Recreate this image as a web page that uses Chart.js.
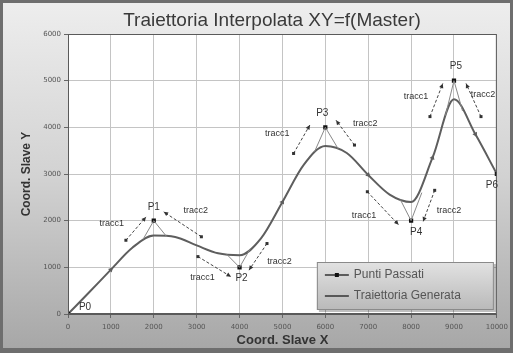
<!DOCTYPE html>
<html>
<head>
<meta charset="utf-8">
<script src="https://cdn.jsdelivr.net/npm/chart.js@4/dist/chart.umd.min.js"></script>
<style>
  html, body { margin: 0; padding: 0; background: #fff; }
  #wrap { width: 513px; height: 353px; }
</style>
</head>
<body>
<div id="wrap"><canvas id="trajChart" width="513" height="353"></canvas></div>
<script>
// punti passati (master -> slave)
const pointNames = ['P0', 'P1', 'P2', 'P3', 'P4', 'P5', 'P6'];
const passX = [0, 2000, 4000, 6000, 8000, 9000, 10000];
const passY = [0, 2000, 1000, 4000, 2000, 5000, 3000];

// traiettoria generata, campionata ogni 500
const trajX = [0, 500, 1000, 1500, 2000, 2500, 3000, 3500, 4000, 4500, 5000,
               5500, 6000, 6500, 7000, 7500, 8000, 8500, 9000, 9500, 10000];
const trajY = [0, 470, 950, 1420, 1680, 1650, 1470, 1300, 1260, 1620, 2400,
               3200, 3600, 3450, 2980, 2560, 2400, 3350, 4600, 3850, 3000];
// campioni su cui disegnare la freccia di direzione
const arrowIdx = [2, 10, 14, 17, 19];

// tangenti (tracc1 entrante, tracc2 uscente) per P1..P5: [xLontano, yLontano, xVicino, yVicino]
const tracc1 = [
  [1350, 1580, 1820, 2080],
  [3030, 1230, 3800, 800],
  [5260, 3440, 5640, 4050],
  [6980, 2620, 7710, 1910],
  [8440, 4230, 8740, 4940]
];
const tracc2 = [
  [3110, 1655, 2230, 2190],
  [4640, 1510, 4220, 940],
  [6680, 3620, 6250, 4150],
  [8550, 2650, 8280, 1980],
  [9630, 4230, 9280, 4940]
];
// raccordi punto -> traiettoria per P1..P5: [xSx, ySx, xDx, yDx]
const raccordi = [
  [1750, 1600, 2300, 1660],
  [3700, 1280, 4250, 1400],
  [5750, 3480, 6300, 3540],
  [7750, 2450, 8250, 2600],
  [8800, 4250, 9200, 4350]
];

const xTicks = [0, 1000, 2000, 3000, 4000, 5000, 6000, 7000, 8000, 9000, 10000];
const yTicks = [0, 1000, 2000, 3000, 4000, 5000, 6000];

const TITLE = 'Traiettoria Interpolata XY=f(Master)';

// spostamenti in pixel delle etichette rispetto al punto
const nameOffset = [[17, -7], [0, -13], [2, 11], [-3, -14], [5, 12], [2, -14], [-5, 11]];
const traccOffset = [
  [[-42, 3], [42, -10]],
  [[-37, 10], [40, -6]],
  [[-48, 6], [40, -4]],
  [[-47, -5], [38, -10]],
  [[-38, 16], [29, 14]]
];

const FONT = "'Liberation Sans', Arial, sans-serif";

const trajData = trajX.map((x, i) => ({ x: x, y: trajY[i] }));
const passData = passX.map((x, i) => ({ x: x, y: passY[i] }));

const frame = {
  id: 'frame',
  beforeDraw(chart) {
    const { ctx, width, height, chartArea: a } = chart;
    ctx.save();
    ctx.fillStyle = '#6e6e6e';
    ctx.fillRect(0, 0, width, height);
    const g = ctx.createLinearGradient(0, 0, 0, height);
    g.addColorStop(0, '#eeeeee');
    g.addColorStop(0.5, '#d2d2d2');
    g.addColorStop(1, '#a6a6a6');
    ctx.fillStyle = g;
    ctx.fillRect(3, 3, width - 6, height - 8);
    ctx.fillStyle = '#ffffff';
    ctx.fillRect(a.left, a.top, a.right - a.left, a.bottom - a.top);

    // titolo, centrato un po' a destra come nell'originale
    ctx.fillStyle = '#3a3a3a';
    ctx.font = '19px ' + FONT;
    ctx.textAlign = 'center';
    ctx.textBaseline = 'middle';
    ctx.fillText(TITLE, 272, 21);
    ctx.restore();
  }
};

function arrowHead(ctx, x0, y0, x1, y1, size) {
  const ang = Math.atan2(y1 - y0, x1 - x0);
  ctx.beginPath();
  ctx.moveTo(x1, y1);
  ctx.lineTo(x1 - size * Math.cos(ang - 0.45), y1 - size * Math.sin(ang - 0.45));
  ctx.lineTo(x1 - size * Math.cos(ang + 0.45), y1 - size * Math.sin(ang + 0.45));
  ctx.closePath();
  ctx.fill();
}

const annotations = {
  id: 'annotations',
  afterDatasetsDraw(chart) {
    const { ctx, chartArea: a } = chart;
    const sx = chart.scales.x, sy = chart.scales.y;
    ctx.save();

    // bordo area grafico
    ctx.strokeStyle = '#5a5a5a';
    ctx.lineWidth = 1;
    ctx.strokeRect(a.left + 0.5, a.top + 0.5, a.right - a.left - 1, a.bottom - a.top - 1);

    // raccordi tra punto e traiettoria
    ctx.strokeStyle = '#888';
    raccordi.forEach((r, k) => {
      const px = sx.getPixelForValue(passX[k + 1]), py = sy.getPixelForValue(passY[k + 1]);
      ctx.beginPath();
      ctx.moveTo(sx.getPixelForValue(r[0]), sy.getPixelForValue(r[1]));
      ctx.lineTo(px, py);
      ctx.lineTo(sx.getPixelForValue(r[2]), sy.getPixelForValue(r[3]));
      ctx.stroke();
    });

    // tangenti nei punti intermedi
    ctx.strokeStyle = '#444';
    ctx.fillStyle = '#333';
    [tracc1, tracc2].forEach(list => {
      list.forEach(t => {
        const x0 = sx.getPixelForValue(t[0]), y0 = sy.getPixelForValue(t[1]);
        const x1 = sx.getPixelForValue(t[2]), y1 = sy.getPixelForValue(t[3]);
        ctx.setLineDash([3, 2]);
        ctx.beginPath();
        ctx.moveTo(x0, y0);
        ctx.lineTo(x1, y1);
        ctx.stroke();
        ctx.setLineDash([]);
        ctx.fillRect(x0 - 1.5, y0 - 1.5, 3, 3);
        arrowHead(ctx, x0, y0, x1, y1, 5);
      });
    });

    // etichette punti e tangenti
    ctx.fillStyle = '#333';
    ctx.textAlign = 'center';
    ctx.textBaseline = 'middle';
    ctx.font = '10px ' + FONT;
    pointNames.forEach((n, i) => {
      const px = sx.getPixelForValue(passX[i]), py = sy.getPixelForValue(passY[i]);
      ctx.fillText(n, px + nameOffset[i][0], py + nameOffset[i][1]);
    });
    ctx.font = '9px ' + FONT;
    traccOffset.forEach((o, k) => {
      const px = sx.getPixelForValue(passX[k + 1]), py = sy.getPixelForValue(passY[k + 1]);
      ctx.fillText('tracc1', px + o[0][0], py + o[0][1]);
      ctx.fillText('tracc2', px + o[1][0], py + o[1][1]);
    });

    // legenda
    const lw = 177, lh = 48;
    const lx = a.right - lw - 3, ly = a.bottom - lh - 4;
    ctx.fillStyle = 'rgba(0,0,0,0.25)';
    ctx.fillRect(lx + 2, ly + 2, lw, lh);
    const g = ctx.createLinearGradient(0, ly, 0, ly + lh);
    g.addColorStop(0, '#e2e2e2');
    g.addColorStop(1, '#b9b9b9');
    ctx.fillStyle = g;
    ctx.fillRect(lx, ly, lw, lh);
    ctx.strokeStyle = '#8a8a8a';
    ctx.strokeRect(lx + 0.5, ly + 0.5, lw - 1, lh - 1);

    const items = chart.data.datasets.slice().reverse();
    items.forEach((ds, i) => {
      const yy = ly + 13 + i * 21;
      ctx.strokeStyle = '#333';
      ctx.lineWidth = 1.5;
      ctx.beginPath();
      ctx.moveTo(lx + 8, yy);
      ctx.lineTo(lx + 32, yy);
      ctx.stroke();
      if (ds.showLine === false) {
        ctx.fillStyle = '#111';
        ctx.fillRect(lx + 18, yy - 2, 4, 4);
      }
      ctx.fillStyle = '#555';
      ctx.textAlign = 'left';
      ctx.font = '12px ' + FONT;
      ctx.fillText(ds.label, lx + 37, yy);
    });
    ctx.restore();
  }
};

new Chart(document.getElementById('trajChart'), {
  type: 'line',
  data: {
    datasets: [
      {
        label: 'Traiettoria Generata',
        data: trajData,
        borderColor: '#5e5e5e',
        backgroundColor: '#5e5e5e',
        borderWidth: 2,
        cubicInterpolationMode: 'monotone',
        pointStyle: 'triangle',
        pointRadius: trajX.map((_, i) => arrowIdx.includes(i) ? 3 : 0),
        pointRotation: (c) => {
          const i = c.dataIndex;
          const sx = c.chart.scales.x, sy = c.chart.scales.y;
          if (!sx || !sy || i <= 0 || i >= trajX.length - 1) return 0;
          const dx = sx.getPixelForValue(trajX[i + 1]) - sx.getPixelForValue(trajX[i - 1]);
          const dy = sy.getPixelForValue(trajY[i + 1]) - sy.getPixelForValue(trajY[i - 1]);
          return Math.atan2(dy, dx) * 180 / Math.PI + 90;
        },
        pointBorderWidth: 0,
        order: 2
      },
      {
        label: 'Punti Passati',
        data: passData,
        showLine: false,
        pointStyle: 'rect',
        pointRadius: 3,
        pointBorderWidth: 0,
        backgroundColor: '#111',
        borderColor: '#111',
        order: 1
      }
    ]
  },
  options: {
    responsive: false,
    animation: false,
    layout: { padding: { left: 5, right: 10, top: 34, bottom: 3 } },
    plugins: {
      legend: { display: false },
      tooltip: { enabled: false },
      title: { display: false }
    },
    scales: {
      x: {
        type: 'linear',
        min: 0,
        max: 10000,
        afterFit: (s) => { s.height = 36; },
        afterBuildTicks: (s) => { s.ticks = xTicks.map(v => ({ value: v })); },
        ticks: {
          color: '#555',
          font: { family: "'DejaVu Sans', sans-serif", size: 7 },
          padding: 5,
          maxRotation: 0,
          autoSkip: false,
          callback: (v) => String(v)
        },
        grid: { color: '#c4c4c4', tickColor: '#666', tickLength: 4 },
        border: { color: '#5a5a5a' },
        title: {
          display: true,
          text: 'Coord. Slave X',
          color: '#333',
          font: { family: FONT, size: 13, weight: 'bold', lineHeight: 1.2 },
          padding: { top: 0, bottom: 2 }
        }
      },
      y: {
        type: 'linear',
        min: 0,
        max: 6000,
        afterFit: (s) => { s.width = 63; },
        afterBuildTicks: (s) => { s.ticks = yTicks.map(v => ({ value: v })); },
        ticks: {
          color: '#555',
          font: { family: "'DejaVu Sans', sans-serif", size: 7 },
          padding: 3,
          autoSkip: false,
          callback: (v) => String(v)
        },
        grid: { color: '#c4c4c4', tickColor: '#666', tickLength: 4 },
        border: { color: '#5a5a5a' },
        title: {
          display: true,
          text: 'Coord. Slave Y',
          color: '#333',
          font: { family: FONT, size: 12, weight: 'bold', lineHeight: 1.2 },
          padding: { top: 14, bottom: 0 }
        }
      }
    }
  },
  plugins: [frame, annotations]
});
</script>
</body>
</html>
